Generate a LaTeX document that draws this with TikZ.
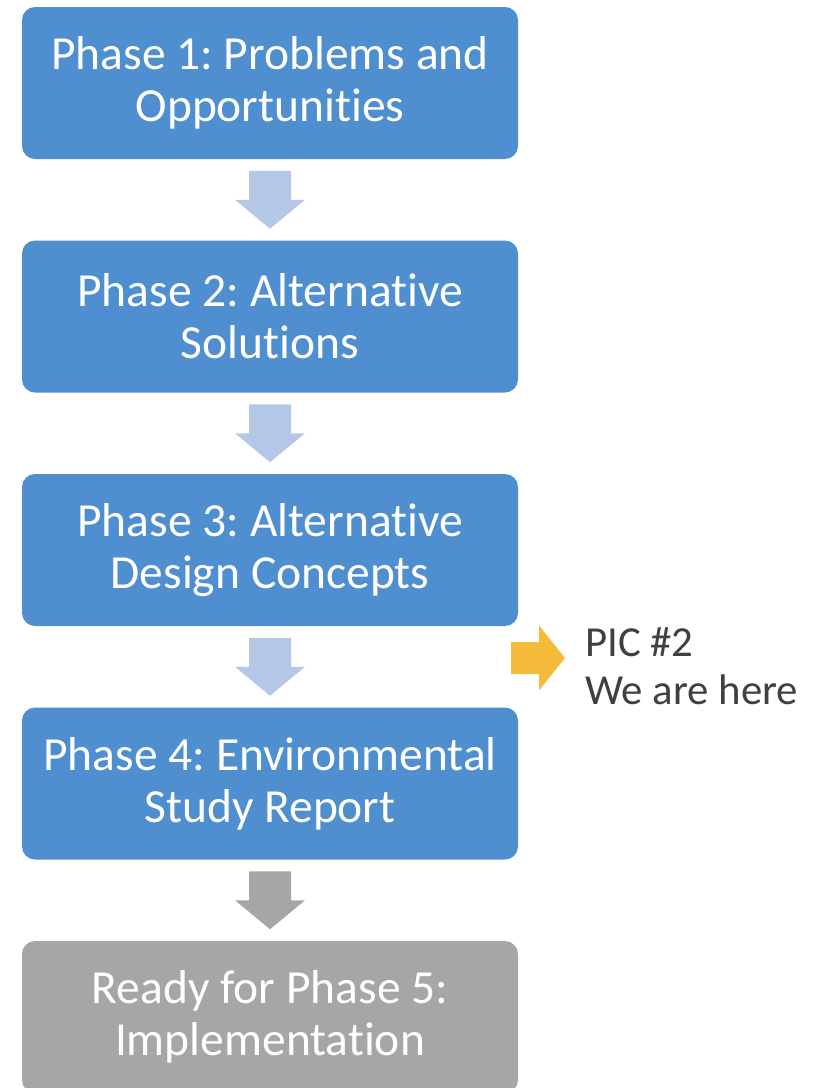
\documentclass[tikz,border=0pt]{standalone}
\usepackage{fontspec}
\setmainfont[Ligatures=NoCommon]{Carlito}
\usetikzlibrary{positioning,calc}
\definecolor{phaseblue}{RGB}{79,143,207}
\definecolor{arrowblue}{RGB}{180,199,231}
\definecolor{donegray}{RGB}{166,166,166}
\definecolor{markyellow}{RGB}{245,186,58}
\definecolor{notegray}{RGB}{64,64,64}
\frenchspacing
\tikzset{
	downarrow/.pic={\fill[pic actions] (-21,-29) -- (21,-29) -- (21,0) -- (35,0) -- (0,29) -- (-35,0) -- (-21,0) -- cycle;},
	rightarrow/.pic={\fill[pic actions] (0,-16) -- (28,-16) -- (28,-32.5) -- (54,0) -- (28,32.5) -- (28,16) -- (0,16) -- cycle;}
}
\begin{document}
\begin{tikzpicture}[x=1pt, y=-1pt,
		phase/.style={rounded corners=13pt, fill=phaseblue, text=white, inner sep=0pt,
			minimum width=496pt, minimum height=152pt, align=center,
			font=\fontsize{47.5}{52}\selectfont},
		note/.style={text=notegray, align=left, inner sep=0pt, font=\fontsize{42.8}{48}\selectfont}]
	\useasboundingbox (0,0) rectangle (817,1088);
	% the phase boxes
	\foreach \t [count=\p] in {Phase 1: Problems and\\Opportunities,
		Phase 2: Alternative\\Solutions,
		Phase 3: Alternative\\Design Concepts,
		Phase 4: Environmental\\Study Report} {
		\node[phase] (p\p) at (270, {83+233.5*(\p-1)}) {\t};
	};
	\node[phase, fill=donegray] (p5) at (270,1017) {Ready for Phase 5:\\Implementation};
	% block arrows between boxes
	\foreach \i [evaluate=\i as \j using int(\i+1)] in {1,...,3} {
		\path ($(p\i.south)!0.5!(p\j.north)$) pic[fill=arrowblue] {downarrow};
	};
	\path ($(p4.south)!0.5!(p5.north)$) pic[fill=donegray] {downarrow};
	% we are here
	\coordinate (here) at (511,658);
	\path (here) pic[fill=markyellow] {rightarrow};
	\node[note, anchor=west] (pic) at (585,666) {PIC \#2\\We are here};
\end{tikzpicture}
\end{document}
